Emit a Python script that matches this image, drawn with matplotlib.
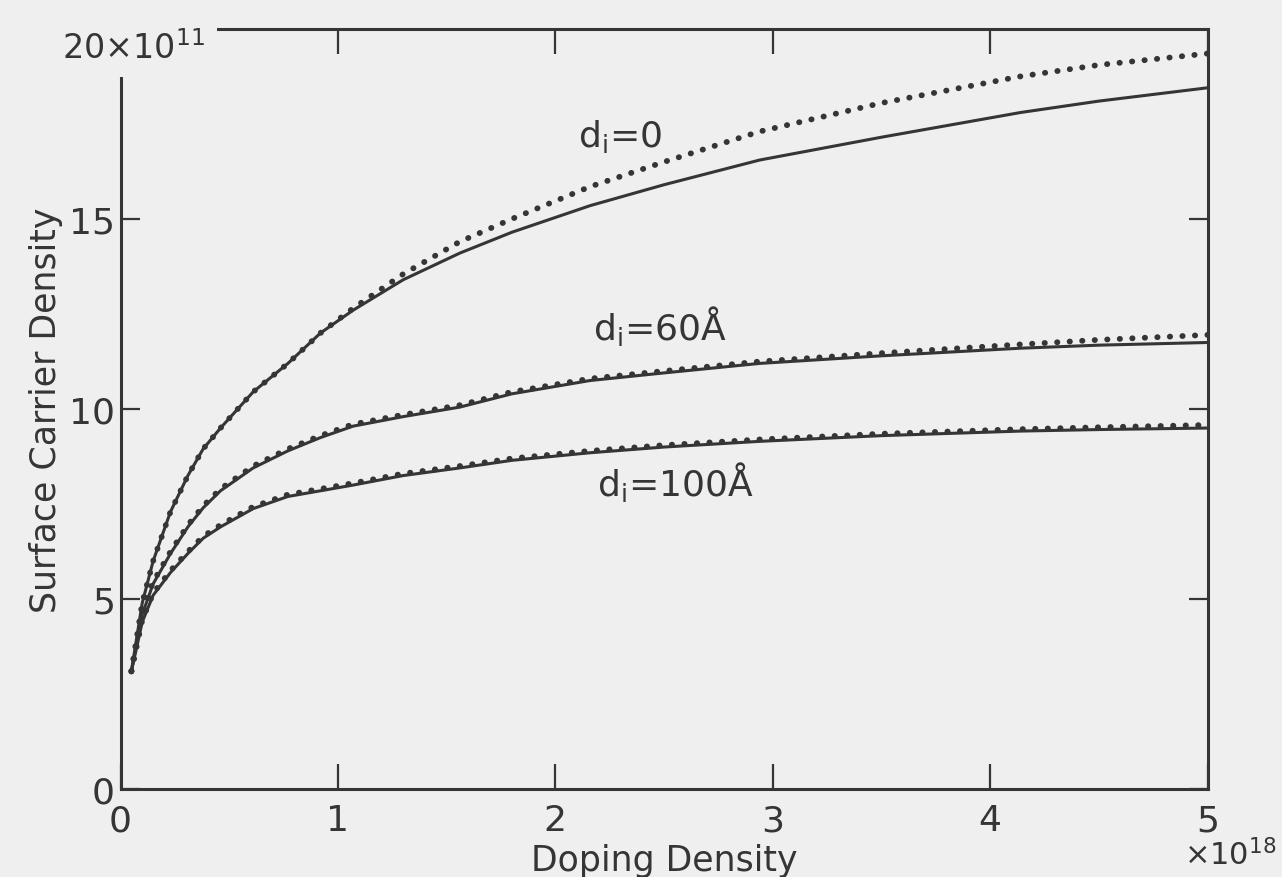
import numpy as np
import matplotlib.pyplot as plt

plt.rcParams['font.family'] = ['DejaVu Sans']
plt.rcParams['mathtext.fontset'] = 'dejavusans'

ink = '#353535'
bg = '#efefef'

# doping density [1e18], surface carrier density [1e11]
dop = np.array([0.05, 0.10, 0.15, 0.23, 0.31, 0.38, 0.46, 0.61, 0.77, 0.92, 1.07, 1.3, 1.56, 1.8,
                2.16, 2.5, 2.94, 3.5, 4.14, 4.5, 5.0])

d0_solid = np.array([3.1, 4.9, 6.0, 7.3, 8.25, 8.95, 9.5, 10.45, 11.2, 12.0, 12.6, 13.4, 14.1, 14.65,
                     15.35, 15.9, 16.55, 17.15, 17.8, 18.1, 18.45])
d0_dots = np.array([3.1, 4.9, 6.0, 7.3, 8.25, 8.95, 9.5, 10.45, 11.2, 12.0, 12.65, 13.55, 14.4, 15.0,
                    15.85, 16.5, 17.3, 18.05, 18.75, 19.05, 19.35])

d60_solid = np.array([3.1, 4.6, 5.4, 6.2, 6.9, 7.4, 7.85, 8.45, 8.9, 9.25, 9.55, 9.8, 10.05, 10.4,
                      10.75, 10.95, 11.2, 11.4, 11.6, 11.68, 11.75])
d60_dots = np.array([3.1, 4.65, 5.45, 6.25, 6.95, 7.45, 7.9, 8.5, 8.95, 9.3, 9.6, 9.85, 10.1, 10.45,
                     10.8, 11.0, 11.25, 11.47, 11.7, 11.82, 11.95])

d100_solid = np.array([3.1, 4.4, 5.1, 5.7, 6.2, 6.6, 6.9, 7.38, 7.7, 7.85, 8.0, 8.25, 8.45, 8.65,
                       8.85, 9.0, 9.15, 9.3, 9.42, 9.46, 9.5])
d100_dots = np.array([3.1, 4.45, 5.15, 5.75, 6.25, 6.65, 6.95, 7.43, 7.75, 7.9, 8.05, 8.3, 8.5, 8.7,
                      8.9, 9.05, 9.2, 9.35, 9.47, 9.52, 9.58])

xticks = [0, 1, 2, 3, 4, 5]
yticks = [0, 5, 10, 15]

fig = plt.figure(figsize=(12.82, 8.78), dpi=100, facecolor=bg)
ax = fig.add_axes([0.094, 0.1, 0.848, 0.866], facecolor=bg)

dots = dict(color=ink, lw=4.2, linestyle=(0, (0.05, 2.1)), dash_capstyle='round')
for ys, yd in [(d0_solid, d0_dots), (d60_solid, d60_dots), (d100_solid, d100_dots)]:
    ax.plot(dop, ys, color=ink, lw=2.2, solid_capstyle='round')
    ax.plot(dop, yd, **dots)

ax.set_xlim(0, 5)
ax.set_ylim(0, 20)
for s in ax.spines.values():
    s.set_color(ink)
    s.set_linewidth(2.2)

ax.set_xticks(xticks)
ax.set_xticklabels([str(t) for t in xticks])
ax.set_yticks(yticks)
ax.set_yticklabels([str(t) for t in yticks])
ax.tick_params(axis='x', direction='in', length=18, width=1.6, color=ink, top=True,
               labelsize=26, labelcolor=ink, pad=10)
ax.tick_params(axis='y', direction='in', length=14, width=1.6, color=ink, right=True,
               labelsize=26, labelcolor=ink, pad=4)

ax.set_xlabel('Doping Density', fontsize=25, color=ink, labelpad=4)
ax.set_ylabel('Surface Carrier Density', fontsize=25, color=ink, labelpad=4)

ax.text(0.996, 0.008, r'×10$^{18}$', transform=fig.transFigure, fontsize=22,
        color=ink, ha='right', va='bottom')
ax.text(0.078, 0.975, r'20×10$^{11}$', transform=ax.transAxes, fontsize=24,
        color=ink, ha='right', va='center',
        bbox=dict(boxstyle='square,pad=0.35', fc=bg, ec='none'), zorder=5)

ax.text(2.3, 17.2, r'd$_\mathregular{i}$=0', fontsize=26, color=ink, ha='center', va='center')
ax.text(2.48, 12.2, r'd$_\mathregular{i}$=60Å', fontsize=26, color=ink, ha='center', va='center')
ax.text(2.55, 8.1, r'd$_\mathregular{i}$=100Å', fontsize=26, color=ink, ha='center', va='center')

fig.savefig('out.png', dpi=100, facecolor=bg)
